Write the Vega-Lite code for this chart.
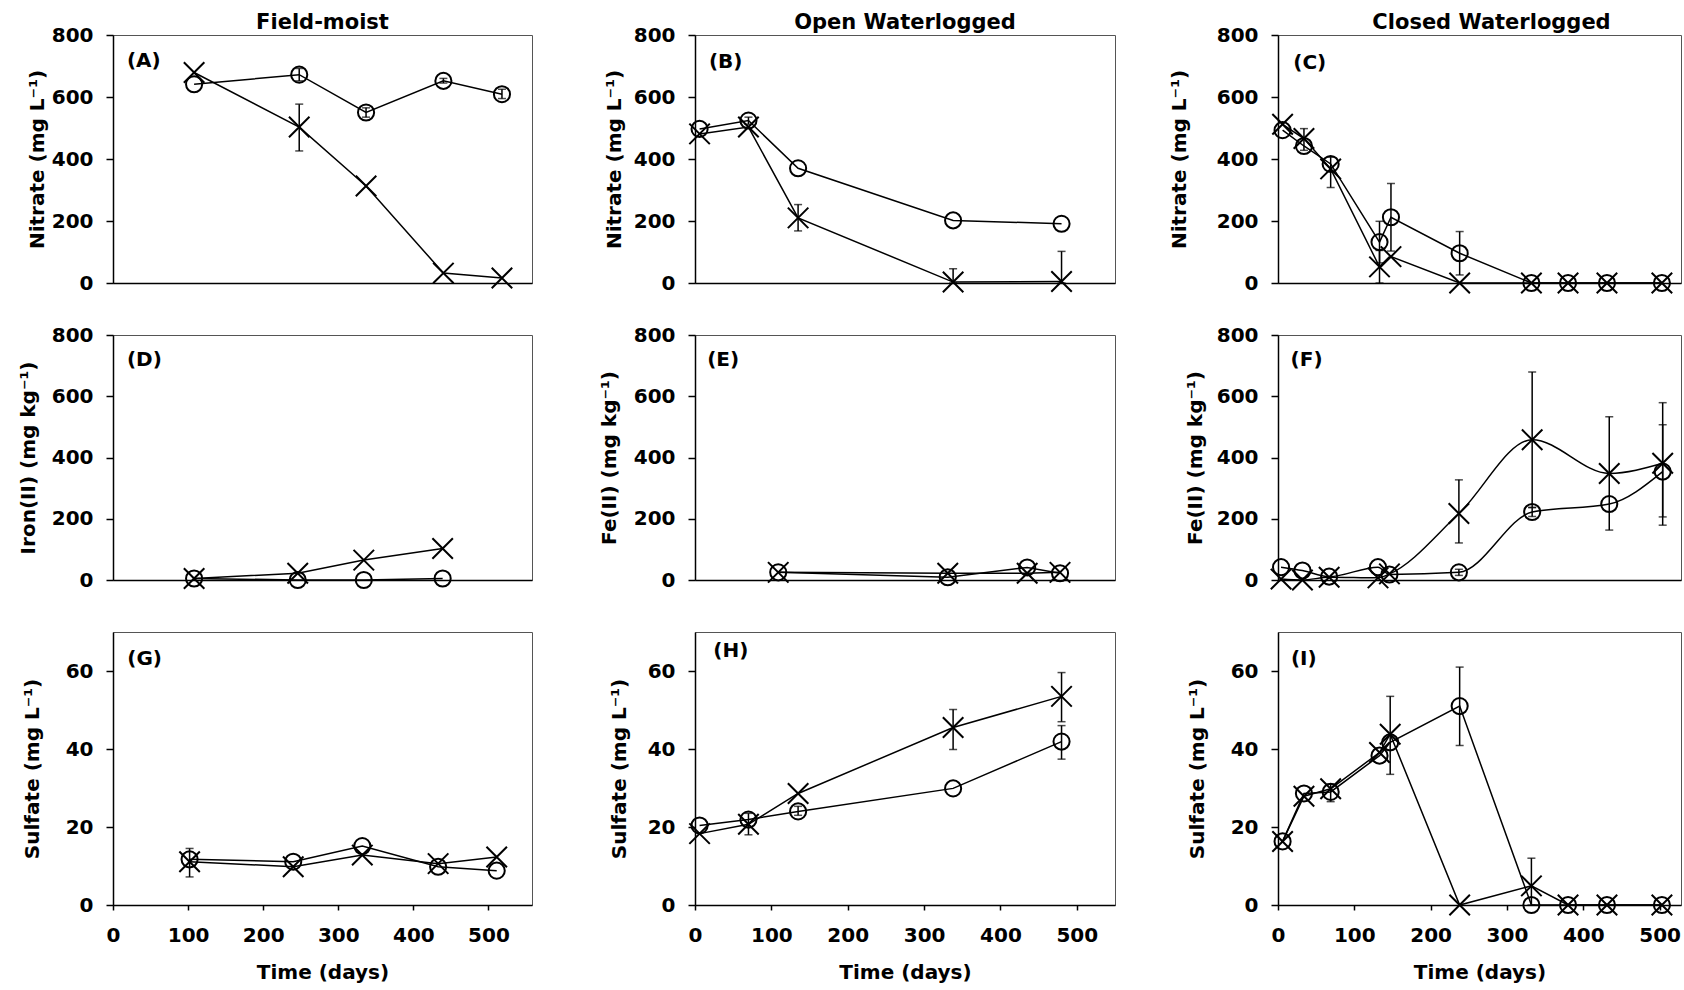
{
  "$schema": "https://vega.github.io/schema/vega-lite/v6.json",
  "background": "white",
  "padding": {"left": 17, "top": 11, "right": 3, "bottom": 5},
  "columns": 3,
  "align": "each",
  "bounds": "flush",
  "spacing": {"row": 52, "column": 163},
  "datasets": {
    "pts": [
      {"p": "A", "s": "o", "d": 108, "v": 641}, {"p": "A", "s": "o", "d": 248, "v": 672}, {"p": "A", "s": "o", "d": 337, "v": 550}, {"p": "A", "s": "o", "d": 440, "v": 652}, {"p": "A", "s": "o", "d": 518, "v": 609},
      {"p": "A", "s": "x", "d": 108, "v": 679}, {"p": "A", "s": "x", "d": 248, "v": 503}, {"p": "A", "s": "x", "d": 337, "v": 313}, {"p": "A", "s": "x", "d": 440, "v": 32}, {"p": "A", "s": "x", "d": 518, "v": 16},
      {"p": "B", "s": "o", "d": 6, "v": 497}, {"p": "B", "s": "o", "d": 70, "v": 524}, {"p": "B", "s": "o", "d": 135, "v": 370}, {"p": "B", "s": "o", "d": 338, "v": 202}, {"p": "B", "s": "o", "d": 480, "v": 191},
      {"p": "B", "s": "x", "d": 6, "v": 481}, {"p": "B", "s": "x", "d": 70, "v": 503}, {"p": "B", "s": "x", "d": 135, "v": 210}, {"p": "B", "s": "x", "d": 338, "v": 3}, {"p": "B", "s": "x", "d": 480, "v": 5},
      {"p": "C", "s": "o", "d": 6, "v": 493}, {"p": "C", "s": "o", "d": 34, "v": 442}, {"p": "C", "s": "o", "d": 69, "v": 384}, {"p": "C", "s": "o", "d": 133, "v": 132}, {"p": "C", "s": "o", "d": 148, "v": 212}, {"p": "C", "s": "o", "d": 238, "v": 96}, {"p": "C", "s": "o", "d": 332, "v": 0}, {"p": "C", "s": "o", "d": 380, "v": 0}, {"p": "C", "s": "o", "d": 431, "v": 0}, {"p": "C", "s": "o", "d": 503, "v": 0},
      {"p": "C", "s": "x", "d": 6, "v": 512}, {"p": "C", "s": "x", "d": 34, "v": 466}, {"p": "C", "s": "x", "d": 69, "v": 368}, {"p": "C", "s": "x", "d": 133, "v": 52}, {"p": "C", "s": "x", "d": 148, "v": 85}, {"p": "C", "s": "x", "d": 238, "v": 0}, {"p": "C", "s": "x", "d": 332, "v": 0}, {"p": "C", "s": "x", "d": 380, "v": 0}, {"p": "C", "s": "x", "d": 431, "v": 0}, {"p": "C", "s": "x", "d": 503, "v": 0},
      {"p": "D", "s": "o", "d": 108, "v": 5}, {"p": "D", "s": "o", "d": 246, "v": 0}, {"p": "D", "s": "o", "d": 334, "v": 0}, {"p": "D", "s": "o", "d": 439, "v": 5},
      {"p": "D", "s": "x", "d": 108, "v": 5}, {"p": "D", "s": "x", "d": 246, "v": 22}, {"p": "D", "s": "x", "d": 334, "v": 65}, {"p": "D", "s": "x", "d": 439, "v": 103},
      {"p": "E", "s": "o", "d": 109, "v": 25}, {"p": "E", "s": "o", "d": 331, "v": 9}, {"p": "E", "s": "o", "d": 435, "v": 41}, {"p": "E", "s": "o", "d": 478, "v": 22},
      {"p": "E", "s": "x", "d": 109, "v": 25}, {"p": "E", "s": "x", "d": 331, "v": 22}, {"p": "E", "s": "x", "d": 435, "v": 22}, {"p": "E", "s": "x", "d": 478, "v": 25},
      {"p": "F", "s": "o", "d": 4, "v": 42}, {"p": "F", "s": "o", "d": 32, "v": 31}, {"p": "F", "s": "o", "d": 67, "v": 11}, {"p": "F", "s": "o", "d": 131, "v": 42}, {"p": "F", "s": "o", "d": 146, "v": 18}, {"p": "F", "s": "o", "d": 237, "v": 25}, {"p": "F", "s": "o", "d": 333, "v": 222}, {"p": "F", "s": "o", "d": 434, "v": 248}, {"p": "F", "s": "o", "d": 504, "v": 354},
      {"p": "F", "s": "x", "d": 4, "v": 3}, {"p": "F", "s": "x", "d": 32, "v": 0}, {"p": "F", "s": "x", "d": 67, "v": 9}, {"p": "F", "s": "x", "d": 131, "v": 7}, {"p": "F", "s": "x", "d": 146, "v": 20}, {"p": "F", "s": "x", "d": 237, "v": 217}, {"p": "F", "s": "x", "d": 333, "v": 458}, {"p": "F", "s": "x", "d": 434, "v": 348}, {"p": "F", "s": "x", "d": 504, "v": 381},
      {"p": "G", "s": "o", "d": 102, "v": 11.7}, {"p": "G", "s": "o", "d": 240, "v": 11.1}, {"p": "G", "s": "o", "d": 332, "v": 15.1}, {"p": "G", "s": "o", "d": 433, "v": 9.8}, {"p": "G", "s": "o", "d": 511, "v": 8.8},
      {"p": "G", "s": "x", "d": 102, "v": 11.1}, {"p": "G", "s": "x", "d": 240, "v": 9.8}, {"p": "G", "s": "x", "d": 332, "v": 12.8}, {"p": "G", "s": "x", "d": 433, "v": 10.6}, {"p": "G", "s": "x", "d": 511, "v": 12.3},
      {"p": "H", "s": "o", "d": 6, "v": 20.4}, {"p": "H", "s": "o", "d": 70, "v": 21.9}, {"p": "H", "s": "o", "d": 135, "v": 24.0}, {"p": "H", "s": "o", "d": 338, "v": 29.9}, {"p": "H", "s": "o", "d": 480, "v": 41.9},
      {"p": "H", "s": "x", "d": 6, "v": 18.3}, {"p": "H", "s": "x", "d": 70, "v": 20.7}, {"p": "H", "s": "x", "d": 135, "v": 28.6}, {"p": "H", "s": "x", "d": 338, "v": 45.5}, {"p": "H", "s": "x", "d": 480, "v": 53.5},
      {"p": "I", "s": "o", "d": 6, "v": 16.3}, {"p": "I", "s": "o", "d": 34, "v": 28.6}, {"p": "I", "s": "o", "d": 69, "v": 29.0}, {"p": "I", "s": "o", "d": 133, "v": 38.3}, {"p": "I", "s": "o", "d": 147, "v": 41.7}, {"p": "I", "s": "o", "d": 238, "v": 51.0}, {"p": "I", "s": "o", "d": 332, "v": 0}, {"p": "I", "s": "o", "d": 380, "v": 0}, {"p": "I", "s": "o", "d": 431, "v": 0}, {"p": "I", "s": "o", "d": 503, "v": 0},
      {"p": "I", "s": "x", "d": 6, "v": 16.3}, {"p": "I", "s": "x", "d": 34, "v": 27.9}, {"p": "I", "s": "x", "d": 69, "v": 29.8}, {"p": "I", "s": "x", "d": 133, "v": 39.1}, {"p": "I", "s": "x", "d": 147, "v": 43.8}, {"p": "I", "s": "x", "d": 238, "v": 0}, {"p": "I", "s": "x", "d": 332, "v": 4.9}, {"p": "I", "s": "x", "d": 380, "v": 0}, {"p": "I", "s": "x", "d": 431, "v": 0}, {"p": "I", "s": "x", "d": 503, "v": 0}
    ],
    "err": [
      {"p": "A", "d": 248, "lo": 426, "hi": 577}, {"p": "A", "d": 248, "lo": 652, "hi": 692}, {"p": "A", "d": 337, "lo": 535, "hi": 565}, {"p": "A", "d": 440, "lo": 645, "hi": 660}, {"p": "A", "d": 518, "lo": 595, "hi": 625},
      {"p": "B", "d": 135, "lo": 168, "hi": 253}, {"p": "B", "d": 338, "lo": 0, "hi": 46}, {"p": "B", "d": 480, "lo": 0, "hi": 102}, {"p": "B", "d": 70, "lo": 512, "hi": 535},
      {"p": "C", "d": 34, "lo": 428, "hi": 498}, {"p": "C", "d": 69, "lo": 308, "hi": 406}, {"p": "C", "d": 133, "lo": 65, "hi": 199}, {"p": "C", "d": 133, "lo": 0, "hi": 105}, {"p": "C", "d": 148, "lo": 103, "hi": 321}, {"p": "C", "d": 238, "lo": 26, "hi": 166},
      {"p": "F", "d": 237, "lo": 121, "hi": 327}, {"p": "F", "d": 237, "lo": 15, "hi": 35}, {"p": "F", "d": 333, "lo": 237, "hi": 679}, {"p": "F", "d": 333, "lo": 207, "hi": 237}, {"p": "F", "d": 434, "lo": 163, "hi": 533}, {"p": "F", "d": 504, "lo": 179, "hi": 579}, {"p": "F", "d": 504, "lo": 206, "hi": 507},
      {"p": "G", "d": 102, "lo": 7.2, "hi": 14.5},
      {"p": "H", "d": 70, "lo": 18, "hi": 23.5}, {"p": "H", "d": 135, "lo": 23, "hi": 25.3}, {"p": "H", "d": 338, "lo": 39.9, "hi": 50.1}, {"p": "H", "d": 480, "lo": 47, "hi": 59.6}, {"p": "H", "d": 480, "lo": 37.4, "hi": 46},
      {"p": "I", "d": 69, "lo": 26.5, "hi": 31}, {"p": "I", "d": 147, "lo": 33.5, "hi": 53.5}, {"p": "I", "d": 238, "lo": 40.9, "hi": 61}, {"p": "I", "d": 332, "lo": 0, "hi": 12}
    ]
  },
  "concat": [
    {
      "width": 419, "height": 248,
      "title": {"text": "Field-moist"},
      "data": {"name": "pts"},
      "transform": [{"filter": "datum.p == 'A'"}],
      "encoding": {
        "x": {"field": "d", "type": "quantitative", "scale": {"domain": [0, 558], "nice": false}, "axis": {"values": [0, 100, 200, 300, 400, 500], "labels": false, "ticks": false, "title": null}},
        "y": {"field": "v", "type": "quantitative", "scale": {"domain": [0, 800], "nice": false}, "axis": {"values": [0, 200, 400, 600, 800], "title": "Nitrate (mg L⁻¹)", "titlePadding": 4}}
      },
      "layer": [
        {"mark": {"type": "line", "color": "black", "strokeWidth": 1.5}, "encoding": {"detail": {"field": "s"}}},
        {"data": {"name": "err"}, "transform": [{"filter": "datum.p == 'A'"}], "mark": {"type": "rule", "color": "black", "strokeWidth": 1.5}, "encoding": {"y": {"field": "lo", "type": "quantitative"}, "y2": {"field": "hi"}}},
        {"data": {"name": "err"}, "transform": [{"filter": "datum.p == 'A'"}], "mark": {"type": "tick", "orient": "horizontal", "size": 8, "thickness": 1.5, "color": "black"}, "encoding": {"y": {"field": "lo", "type": "quantitative"}}},
        {"data": {"name": "err"}, "transform": [{"filter": "datum.p == 'A'"}], "mark": {"type": "tick", "orient": "horizontal", "size": 8, "thickness": 1.5, "color": "black"}, "encoding": {"y": {"field": "hi", "type": "quantitative"}}},
        {"transform": [{"filter": "datum.s == 'o'"}], "mark": {"type": "point", "shape": "circle", "size": 260, "filled": false, "strokeWidth": 2, "color": "black", "opacity": 1}},
        {"transform": [{"filter": "datum.s == 'x'"}], "mark": {"type": "point", "shape": "M-1,-1L1,1M-1,1L1,-1", "size": 420, "filled": false, "strokeWidth": 2, "color": "black", "opacity": 1}},
        {"transform": [{"aggregate": [{"op": "min", "field": "d", "as": "d"}, {"op": "min", "field": "v", "as": "v"}]}], "mark": {"type": "text", "align": "left", "baseline": "top", "fontSize": 20, "fontWeight": "bold", "color": "black"}, "encoding": {"x": {"datum": 18.6}, "y": {"datum": 748}, "text": {"value": "(A)"}}}
      ]
    },
    {
      "width": 420, "height": 248,
      "title": {"text": "Open Waterlogged"},
      "data": {"name": "pts"},
      "transform": [{"filter": "datum.p == 'B'"}],
      "encoding": {
        "x": {"field": "d", "type": "quantitative", "scale": {"domain": [0, 550], "nice": false}, "axis": {"values": [0, 100, 200, 300, 400, 500], "labels": false, "ticks": false, "title": null}},
        "y": {"field": "v", "type": "quantitative", "scale": {"domain": [0, 800], "nice": false}, "axis": {"values": [0, 200, 400, 600, 800], "title": "Nitrate (mg L⁻¹)", "titlePadding": 9}}
      },
      "layer": [
        {"mark": {"type": "line", "color": "black", "strokeWidth": 1.5}, "encoding": {"detail": {"field": "s"}}},
        {"data": {"name": "err"}, "transform": [{"filter": "datum.p == 'B'"}], "mark": {"type": "rule", "color": "black", "strokeWidth": 1.5}, "encoding": {"y": {"field": "lo", "type": "quantitative"}, "y2": {"field": "hi"}}},
        {"data": {"name": "err"}, "transform": [{"filter": "datum.p == 'B'"}], "mark": {"type": "tick", "orient": "horizontal", "size": 8, "thickness": 1.5, "color": "black"}, "encoding": {"y": {"field": "lo", "type": "quantitative"}}},
        {"data": {"name": "err"}, "transform": [{"filter": "datum.p == 'B'"}], "mark": {"type": "tick", "orient": "horizontal", "size": 8, "thickness": 1.5, "color": "black"}, "encoding": {"y": {"field": "hi", "type": "quantitative"}}},
        {"transform": [{"filter": "datum.s == 'o'"}], "mark": {"type": "point", "shape": "circle", "size": 260, "filled": false, "strokeWidth": 2, "color": "black", "opacity": 1}},
        {"transform": [{"filter": "datum.s == 'x'"}], "mark": {"type": "point", "shape": "M-1,-1L1,1M-1,1L1,-1", "size": 420, "filled": false, "strokeWidth": 2, "color": "black", "opacity": 1}},
        {"transform": [{"aggregate": [{"op": "min", "field": "d", "as": "d"}, {"op": "min", "field": "v", "as": "v"}]}], "mark": {"type": "text", "align": "left", "baseline": "top", "fontSize": 20, "fontWeight": "bold", "color": "black"}, "encoding": {"x": {"datum": 18.3}, "y": {"datum": 745}, "text": {"value": "(B)"}}}
      ]
    },
    {
      "width": 403, "height": 248,
      "title": {"text": "Closed Waterlogged", "dx": 12},
      "data": {"name": "pts"},
      "transform": [{"filter": "datum.p == 'C'"}],
      "encoding": {
        "x": {"field": "d", "type": "quantitative", "scale": {"domain": [0, 528], "nice": false}, "axis": {"values": [0, 100, 200, 300, 400, 500], "labels": false, "ticks": false, "title": null}},
        "y": {"field": "v", "type": "quantitative", "scale": {"domain": [0, 800], "nice": false}, "axis": {"values": [0, 200, 400, 600, 800], "title": "Nitrate (mg L⁻¹)", "titlePadding": 27}}
      },
      "layer": [
        {"mark": {"type": "line", "color": "black", "strokeWidth": 1.5}, "encoding": {"detail": {"field": "s"}}},
        {"data": {"name": "err"}, "transform": [{"filter": "datum.p == 'C'"}], "mark": {"type": "rule", "color": "black", "strokeWidth": 1.5}, "encoding": {"y": {"field": "lo", "type": "quantitative"}, "y2": {"field": "hi"}}},
        {"data": {"name": "err"}, "transform": [{"filter": "datum.p == 'C'"}], "mark": {"type": "tick", "orient": "horizontal", "size": 8, "thickness": 1.5, "color": "black"}, "encoding": {"y": {"field": "lo", "type": "quantitative"}}},
        {"data": {"name": "err"}, "transform": [{"filter": "datum.p == 'C'"}], "mark": {"type": "tick", "orient": "horizontal", "size": 8, "thickness": 1.5, "color": "black"}, "encoding": {"y": {"field": "hi", "type": "quantitative"}}},
        {"transform": [{"filter": "datum.s == 'o'"}], "mark": {"type": "point", "shape": "circle", "size": 260, "filled": false, "strokeWidth": 2, "color": "black", "opacity": 1}},
        {"transform": [{"filter": "datum.s == 'x'"}], "mark": {"type": "point", "shape": "M-1,-1L1,1M-1,1L1,-1", "size": 420, "filled": false, "strokeWidth": 2, "color": "black", "opacity": 1}},
        {"transform": [{"aggregate": [{"op": "min", "field": "d", "as": "d"}, {"op": "min", "field": "v", "as": "v"}]}], "mark": {"type": "text", "align": "left", "baseline": "top", "fontSize": 20, "fontWeight": "bold", "color": "black"}, "encoding": {"x": {"datum": 20}, "y": {"datum": 743}, "text": {"value": "(C)"}}}
      ]
    },
    {
      "width": 419, "height": 245,
      "data": {"name": "pts"},
      "transform": [{"filter": "datum.p == 'D'"}],
      "encoding": {
        "x": {"field": "d", "type": "quantitative", "scale": {"domain": [0, 558], "nice": false}, "axis": {"values": [0, 100, 200, 300, 400, 500], "labels": false, "ticks": false, "title": null}},
        "y": {"field": "v", "type": "quantitative", "scale": {"domain": [0, 800], "nice": false}, "axis": {"values": [0, 200, 400, 600, 800], "title": "Iron(II) (mg kg⁻¹)", "titlePadding": 13}}
      },
      "layer": [
        {"mark": {"type": "line", "color": "black", "strokeWidth": 1.5}, "encoding": {"detail": {"field": "s"}}},
        {"transform": [{"filter": "datum.s == 'o'"}], "mark": {"type": "point", "shape": "circle", "size": 260, "filled": false, "strokeWidth": 2, "color": "black", "opacity": 1}},
        {"transform": [{"filter": "datum.s == 'x'"}], "mark": {"type": "point", "shape": "M-1,-1L1,1M-1,1L1,-1", "size": 420, "filled": false, "strokeWidth": 2, "color": "black", "opacity": 1}},
        {"transform": [{"aggregate": [{"op": "min", "field": "d", "as": "d"}, {"op": "min", "field": "v", "as": "v"}]}], "mark": {"type": "text", "align": "left", "baseline": "top", "fontSize": 20, "fontWeight": "bold", "color": "black"}, "encoding": {"x": {"datum": 18.6}, "y": {"datum": 750}, "text": {"value": "(D)"}}}
      ]
    },
    {
      "width": 420, "height": 245,
      "data": {"name": "pts"},
      "transform": [{"filter": "datum.p == 'E'"}],
      "encoding": {
        "x": {"field": "d", "type": "quantitative", "scale": {"domain": [0, 550], "nice": false}, "axis": {"values": [0, 100, 200, 300, 400, 500], "labels": false, "ticks": false, "title": null}},
        "y": {"field": "v", "type": "quantitative", "scale": {"domain": [0, 800], "nice": false}, "axis": {"values": [0, 200, 400, 600, 800], "title": "Fe(II) (mg kg⁻¹)", "titlePadding": 14}}
      },
      "layer": [
        {"mark": {"type": "line", "color": "black", "strokeWidth": 1.5}, "encoding": {"detail": {"field": "s"}}},
        {"transform": [{"filter": "datum.s == 'o'"}], "mark": {"type": "point", "shape": "circle", "size": 260, "filled": false, "strokeWidth": 2, "color": "black", "opacity": 1}},
        {"transform": [{"filter": "datum.s == 'x'"}], "mark": {"type": "point", "shape": "M-1,-1L1,1M-1,1L1,-1", "size": 420, "filled": false, "strokeWidth": 2, "color": "black", "opacity": 1}},
        {"transform": [{"aggregate": [{"op": "min", "field": "d", "as": "d"}, {"op": "min", "field": "v", "as": "v"}]}], "mark": {"type": "text", "align": "left", "baseline": "top", "fontSize": 20, "fontWeight": "bold", "color": "black"}, "encoding": {"x": {"datum": 16}, "y": {"datum": 750}, "text": {"value": "(E)"}}}
      ]
    },
    {
      "width": 403, "height": 245,
      "data": {"name": "pts"},
      "transform": [{"filter": "datum.p == 'F'"}],
      "encoding": {
        "x": {"field": "d", "type": "quantitative", "scale": {"domain": [0, 528], "nice": false}, "axis": {"values": [0, 100, 200, 300, 400, 500], "labels": false, "ticks": false, "title": null}},
        "y": {"field": "v", "type": "quantitative", "scale": {"domain": [0, 800], "nice": false}, "axis": {"values": [0, 200, 400, 600, 800], "title": "Fe(II) (mg kg⁻¹)", "titlePadding": 11}}
      },
      "layer": [
        {"mark": {"type": "line", "color": "black", "strokeWidth": 1.5, "interpolate": "monotone"}, "encoding": {"detail": {"field": "s"}}},
        {"data": {"name": "err"}, "transform": [{"filter": "datum.p == 'F'"}], "mark": {"type": "rule", "color": "black", "strokeWidth": 1.5}, "encoding": {"y": {"field": "lo", "type": "quantitative"}, "y2": {"field": "hi"}}},
        {"data": {"name": "err"}, "transform": [{"filter": "datum.p == 'F'"}], "mark": {"type": "tick", "orient": "horizontal", "size": 8, "thickness": 1.5, "color": "black"}, "encoding": {"y": {"field": "lo", "type": "quantitative"}}},
        {"data": {"name": "err"}, "transform": [{"filter": "datum.p == 'F'"}], "mark": {"type": "tick", "orient": "horizontal", "size": 8, "thickness": 1.5, "color": "black"}, "encoding": {"y": {"field": "hi", "type": "quantitative"}}},
        {"transform": [{"filter": "datum.s == 'o'"}], "mark": {"type": "point", "shape": "circle", "size": 260, "filled": false, "strokeWidth": 2, "color": "black", "opacity": 1}},
        {"transform": [{"filter": "datum.s == 'x'"}], "mark": {"type": "point", "shape": "M-1,-1L1,1M-1,1L1,-1", "size": 420, "filled": false, "strokeWidth": 2, "color": "black", "opacity": 1}},
        {"transform": [{"aggregate": [{"op": "min", "field": "d", "as": "d"}, {"op": "min", "field": "v", "as": "v"}]}], "mark": {"type": "text", "align": "left", "baseline": "top", "fontSize": 20, "fontWeight": "bold", "color": "black"}, "encoding": {"x": {"datum": 16.5}, "y": {"datum": 750}, "text": {"value": "(F)"}}}
      ]
    },
    {
      "width": 419, "height": 273,
      "data": {"name": "pts"},
      "transform": [{"filter": "datum.p == 'G'"}],
      "encoding": {
        "x": {"field": "d", "type": "quantitative", "scale": {"domain": [0, 558], "nice": false}, "axis": {"values": [0, 100, 200, 300, 400, 500], "title": "Time (days)"}},
        "y": {"field": "v", "type": "quantitative", "scale": {"domain": [0, 70], "nice": false}, "axis": {"values": [0, 20, 40, 60], "title": "Sulfate (mg L⁻¹)", "titlePadding": 23}}
      },
      "layer": [
        {"mark": {"type": "line", "color": "black", "strokeWidth": 1.5}, "encoding": {"detail": {"field": "s"}}},
        {"data": {"name": "err"}, "transform": [{"filter": "datum.p == 'G'"}], "mark": {"type": "rule", "color": "black", "strokeWidth": 1.5}, "encoding": {"y": {"field": "lo", "type": "quantitative"}, "y2": {"field": "hi"}}},
        {"data": {"name": "err"}, "transform": [{"filter": "datum.p == 'G'"}], "mark": {"type": "tick", "orient": "horizontal", "size": 8, "thickness": 1.5, "color": "black"}, "encoding": {"y": {"field": "lo", "type": "quantitative"}}},
        {"data": {"name": "err"}, "transform": [{"filter": "datum.p == 'G'"}], "mark": {"type": "tick", "orient": "horizontal", "size": 8, "thickness": 1.5, "color": "black"}, "encoding": {"y": {"field": "hi", "type": "quantitative"}}},
        {"transform": [{"filter": "datum.s == 'o'"}], "mark": {"type": "point", "shape": "circle", "size": 260, "filled": false, "strokeWidth": 2, "color": "black", "opacity": 1}},
        {"transform": [{"filter": "datum.s == 'x'"}], "mark": {"type": "point", "shape": "M-1,-1L1,1M-1,1L1,-1", "size": 420, "filled": false, "strokeWidth": 2, "color": "black", "opacity": 1}},
        {"transform": [{"aggregate": [{"op": "min", "field": "d", "as": "d"}, {"op": "min", "field": "v", "as": "v"}]}], "mark": {"type": "text", "align": "left", "baseline": "top", "fontSize": 20, "fontWeight": "bold", "color": "black"}, "encoding": {"x": {"datum": 19}, "y": {"datum": 65.6}, "text": {"value": "(G)"}}}
      ]
    },
    {
      "width": 420, "height": 273,
      "data": {"name": "pts"},
      "transform": [{"filter": "datum.p == 'H'"}],
      "encoding": {
        "x": {"field": "d", "type": "quantitative", "scale": {"domain": [0, 550], "nice": false}, "axis": {"values": [0, 100, 200, 300, 400, 500], "title": "Time (days)"}},
        "y": {"field": "v", "type": "quantitative", "scale": {"domain": [0, 70], "nice": false}, "axis": {"values": [0, 20, 40, 60], "title": "Sulfate (mg L⁻¹)", "titlePadding": 18}}
      },
      "layer": [
        {"mark": {"type": "line", "color": "black", "strokeWidth": 1.5}, "encoding": {"detail": {"field": "s"}}},
        {"data": {"name": "err"}, "transform": [{"filter": "datum.p == 'H'"}], "mark": {"type": "rule", "color": "black", "strokeWidth": 1.5}, "encoding": {"y": {"field": "lo", "type": "quantitative"}, "y2": {"field": "hi"}}},
        {"data": {"name": "err"}, "transform": [{"filter": "datum.p == 'H'"}], "mark": {"type": "tick", "orient": "horizontal", "size": 8, "thickness": 1.5, "color": "black"}, "encoding": {"y": {"field": "lo", "type": "quantitative"}}},
        {"data": {"name": "err"}, "transform": [{"filter": "datum.p == 'H'"}], "mark": {"type": "tick", "orient": "horizontal", "size": 8, "thickness": 1.5, "color": "black"}, "encoding": {"y": {"field": "hi", "type": "quantitative"}}},
        {"transform": [{"filter": "datum.s == 'o'"}], "mark": {"type": "point", "shape": "circle", "size": 260, "filled": false, "strokeWidth": 2, "color": "black", "opacity": 1}},
        {"transform": [{"filter": "datum.s == 'x'"}], "mark": {"type": "point", "shape": "M-1,-1L1,1M-1,1L1,-1", "size": 420, "filled": false, "strokeWidth": 2, "color": "black", "opacity": 1}},
        {"transform": [{"aggregate": [{"op": "min", "field": "d", "as": "d"}, {"op": "min", "field": "v", "as": "v"}]}], "mark": {"type": "text", "align": "left", "baseline": "top", "fontSize": 20, "fontWeight": "bold", "color": "black"}, "encoding": {"x": {"datum": 24}, "y": {"datum": 67.8}, "text": {"value": "(H)"}}}
      ]
    },
    {
      "width": 403, "height": 273,
      "data": {"name": "pts"},
      "transform": [{"filter": "datum.p == 'I'"}],
      "encoding": {
        "x": {"field": "d", "type": "quantitative", "scale": {"domain": [0, 528], "nice": false}, "axis": {"values": [0, 100, 200, 300, 400, 500], "title": "Time (days)"}},
        "y": {"field": "v", "type": "quantitative", "scale": {"domain": [0, 70], "nice": false}, "axis": {"values": [0, 20, 40, 60], "title": "Sulfate (mg L⁻¹)", "titlePadding": 23}}
      },
      "layer": [
        {"mark": {"type": "line", "color": "black", "strokeWidth": 1.5}, "encoding": {"detail": {"field": "s"}}},
        {"data": {"name": "err"}, "transform": [{"filter": "datum.p == 'I'"}], "mark": {"type": "rule", "color": "black", "strokeWidth": 1.5}, "encoding": {"y": {"field": "lo", "type": "quantitative"}, "y2": {"field": "hi"}}},
        {"data": {"name": "err"}, "transform": [{"filter": "datum.p == 'I'"}], "mark": {"type": "tick", "orient": "horizontal", "size": 8, "thickness": 1.5, "color": "black"}, "encoding": {"y": {"field": "lo", "type": "quantitative"}}},
        {"data": {"name": "err"}, "transform": [{"filter": "datum.p == 'I'"}], "mark": {"type": "tick", "orient": "horizontal", "size": 8, "thickness": 1.5, "color": "black"}, "encoding": {"y": {"field": "hi", "type": "quantitative"}}},
        {"transform": [{"filter": "datum.s == 'o'"}], "mark": {"type": "point", "shape": "circle", "size": 260, "filled": false, "strokeWidth": 2, "color": "black", "opacity": 1}},
        {"transform": [{"filter": "datum.s == 'x'"}], "mark": {"type": "point", "shape": "M-1,-1L1,1M-1,1L1,-1", "size": 420, "filled": false, "strokeWidth": 2, "color": "black", "opacity": 1}},
        {"transform": [{"aggregate": [{"op": "min", "field": "d", "as": "d"}, {"op": "min", "field": "v", "as": "v"}]}], "mark": {"type": "text", "align": "left", "baseline": "top", "fontSize": 20, "fontWeight": "bold", "color": "black"}, "encoding": {"x": {"datum": 17}, "y": {"datum": 65.6}, "text": {"value": "(I)"}}}
      ]
    }
  ],
  "config": {
    "font": "DejaVu Sans",
    "view": {"stroke": "#555555", "strokeWidth": 1},
    "axis": {"grid": false, "domainColor": "black", "domainWidth": 1.5, "tickColor": "black", "tickWidth": 1.5, "labelFont": "DejaVu Sans", "labelFontWeight": "bold", "labelFontSize": 20, "labelColor": "black", "labelFlush": false, "labelOverlap": false, "titleFont": "DejaVu Sans", "titleFontWeight": "bold", "titleFontSize": 20, "titleColor": "black"},
    "axisY": {"tickSize": 7, "labelPadding": 13},
    "axisX": {"tickSize": 5, "labelPadding": 15, "titlePadding": 17},
    "title": {"font": "DejaVu Sans", "fontSize": 21, "fontWeight": "bold", "color": "black", "offset": -8}
  }
}
